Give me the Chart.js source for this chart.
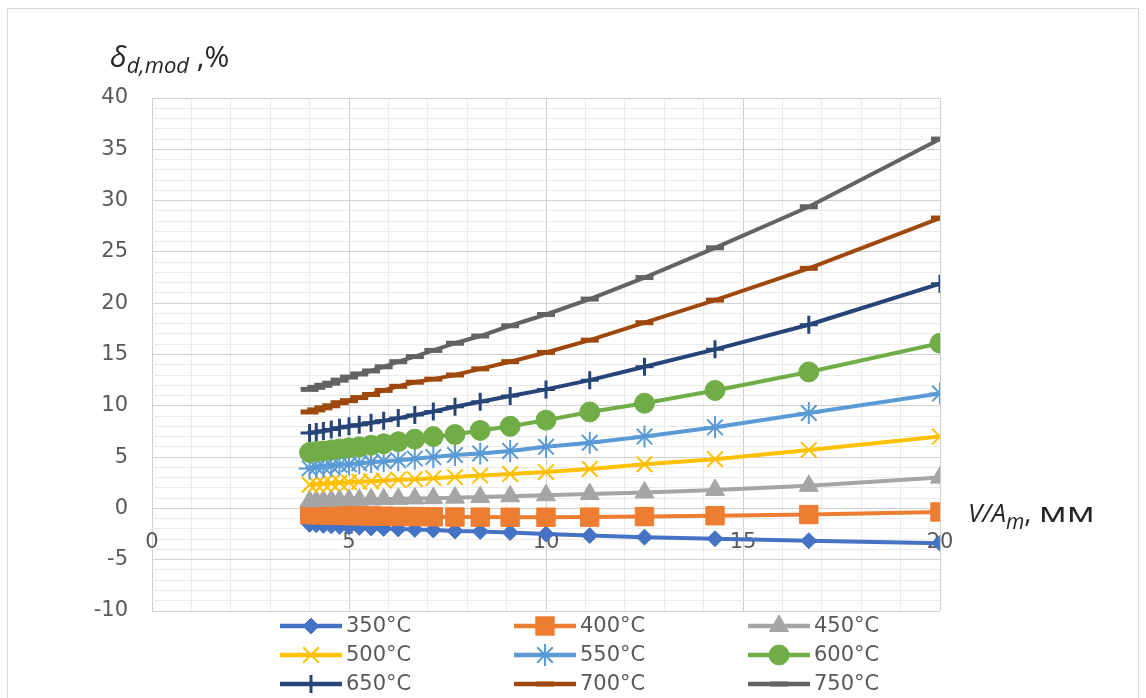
<!DOCTYPE html>
<html>
<head>
<meta charset="utf-8">
<script src="https://cdn.jsdelivr.net/npm/chart.js@4.4.1/dist/chart.umd.min.js"></script>
<style>
	html, body { margin: 0; padding: 0; background: #fff; }
	#wrap { position: relative; width: 1146px; height: 698px; overflow: hidden; }
	#frame { position: absolute; left: 7px; top: 8px; width: 1132px; height: 720px; border: 1px solid #d9d9d9; box-sizing: border-box; }
	#chart { position: absolute; left: 0; top: 0; }
</style>
</head>
<body>
<div id="wrap">
	<div id="frame"></div>
	<canvas id="chart" width="1146" height="698"></canvas>
</div>
<script>
// V/A_m, mm
const volumeRatio = [4, 4.17, 4.35, 4.55, 4.76, 5, 5.26, 5.56, 5.88, 6.25, 6.67, 7.14, 7.69, 8.33, 9.09, 10, 11.11, 12.5, 14.29, 16.67, 20];

const temperatures = ['350°C', '400°C', '450°C', '500°C', '550°C', '600°C', '650°C', '700°C', '750°C'];

// delta_d,mod, % for each temperature
const dev350 = [-1.55, -1.6, -1.65, -1.7, -1.75, -1.8, -1.85, -1.9, -1.95, -2.0, -2.05, -2.1, -2.2, -2.25, -2.35, -2.5, -2.65, -2.8, -2.95, -3.15, -3.4];
const dev400 = [-0.6, -0.62, -0.64, -0.66, -0.68, -0.7, -0.72, -0.74, -0.76, -0.78, -0.8, -0.82, -0.84, -0.85, -0.86, -0.86, -0.85, -0.8, -0.72, -0.6, -0.35];
const dev450 = [0.7, 0.72, 0.75, 0.78, 0.8, 0.82, 0.85, 0.88, 0.9, 0.93, 0.97, 1.0, 1.05, 1.1, 1.18, 1.28, 1.4, 1.55, 1.8, 2.2, 3.0];
const dev500 = [2.3, 2.35, 2.4, 2.45, 2.5, 2.55, 2.6, 2.65, 2.7, 2.8, 2.85, 2.95, 3.05, 3.2, 3.35, 3.55, 3.85, 4.3, 4.8, 5.7, 7.0];
const dev550 = [3.9, 4.0, 4.05, 4.15, 4.25, 4.3, 4.4, 4.5, 4.6, 4.7, 4.85, 5.0, 5.2, 5.35, 5.6, 6.0, 6.4, 7.0, 7.9, 9.3, 11.2];
const dev600 = [5.45, 5.55, 5.6, 5.7, 5.8, 5.9, 6.0, 6.15, 6.3, 6.5, 6.75, 7.0, 7.2, 7.6, 8.0, 8.6, 9.4, 10.25, 11.5, 13.3, 16.1];
const dev650 = [7.35, 7.45, 7.55, 7.7, 7.85, 8.0, 8.15, 8.35, 8.55, 8.8, 9.1, 9.45, 9.9, 10.4, 10.95, 11.6, 12.5, 13.8, 15.5, 17.9, 21.9];
const dev700 = [9.4, 9.6, 9.8, 10.0, 10.3, 10.5, 10.8, 11.1, 11.5, 11.9, 12.3, 12.6, 13.0, 13.6, 14.3, 15.2, 16.4, 18.1, 20.3, 23.4, 28.3];
const dev750 = [11.6, 11.8, 12.0, 12.2, 12.5, 12.8, 13.1, 13.4, 13.8, 14.3, 14.8, 15.4, 16.1, 16.8, 17.8, 18.9, 20.4, 22.5, 25.4, 29.4, 36.0];

const xTicks = [0, 5, 10, 15, 20];
const yTicks = [-10, -5, 0, 5, 10, 15, 20, 25, 30, 35, 40];

const seriesValues = [dev350, dev400, dev450, dev500, dev550, dev600, dev650, dev700, dev750];

const seriesStyles = [
	{ color: '#4472C4', point: 'rectRot',  radius: 8,  border: 1 },
	{ color: '#ED7D31', point: 'rect',     radius: 13, border: 1 },
	{ color: '#A5A5A5', point: 'triangle', radius: 11, border: 1 },
	{ color: '#FFC000', point: 'crossRot', radius: 11, border: 2 },
	{ color: '#5B9BD5', point: 'star',     radius: 11, border: 2 },
	{ color: '#70AD47', point: 'circle',   radius: 10, border: 1 },
	{ color: '#264478', point: 'cross',    radius: 9,  border: 3 },
	{ color: '#9E480E', point: 'line',     radius: 9,  border: 5 },
	{ color: '#636363', point: 'line',     radius: 9,  border: 5 }
];

const FONT = '"Open Sans", "Noto Sans", sans-serif';
const TICK_FONT = '"DejaVu Sans", sans-serif';
const TEXT_GRAY = '#595959';

function buildDatasets () {
	return temperatures.map((label, i) => {
		const style = seriesStyles[i];

		return {
			label,
			data: volumeRatio.map((x, k) => ({ x, y: seriesValues[i][k] })),
			borderColor: style.color,
			backgroundColor: style.color,
			borderWidth: 4,
			pointStyle: style.point,
			pointRadius: style.radius,
			pointBorderWidth: style.border,
			pointBorderColor: style.color,
			pointBackgroundColor: style.color,
			tension: 0,
			order: -i
		};
	});
}

function gridColor (ctx) {
	if (!ctx.tick) return '#ebebeb';
	return ctx.tick.value % 5 === 0 ? '#d0d0d0' : '#ebebeb';
}

// draws text pieces one after another; a piece with `width` is stretched to that width
function drawRuns (ctx, x, runs) {
	for (let run of runs) {
		ctx.font = run.font;
		const natural = ctx.measureText(run.text).width;

		if (run.width) {
			ctx.save();
			ctx.translate(x, run.y);
			ctx.scale(run.width / natural, 1);
			ctx.fillText(run.text, 0, 0);
			ctx.restore();
			x += run.width;
		} else {
			ctx.fillText(run.text, x, run.y);
			x += natural;
		}
	}
}

// axis titles and the three-column legend under the plot
const annotate = {
	id: 'annotate',
	afterDraw (chart) {
		const ctx = chart.ctx;
		ctx.save();
		ctx.fillStyle = '#262626';
		ctx.textBaseline = 'alphabetic';
		ctx.textAlign = 'left';

		drawRuns(ctx, 110, [
			{ text: 'δ', font: `italic 30px ${FONT}`, y: 67 },
			{ text: 'd,mod', font: `italic 22px ${FONT}`, y: 73 },
			{ text: ' ,%', font: `30px ${FONT}`, y: 67 }
		]);

		drawRuns(ctx, 968, [
			{ text: 'V/A', font: `italic 26px ${FONT}`, y: 522 },
			{ text: 'm', font: `italic 21px ${FONT}`, y: 529 },
			{ text: ', ', font: `28px ${FONT}`, y: 522 },
			{ text: 'мм', font: `27px ${FONT}`, y: 522, width: 56 }
		]);

		const columns = [280, 514, 748];
		const rows = [626, 655, 684];
		const lineLength = 62;

		chart.data.datasets.forEach((ds, i) => {
			const x0 = columns[i % 3];
			const y0 = rows[Math.floor(i / 3)];
			const style = seriesStyles[i];

			ctx.strokeStyle = style.color;
			ctx.fillStyle = style.color;
			ctx.lineWidth = 4.5;
			ctx.beginPath();
			ctx.moveTo(x0, y0);
			ctx.lineTo(x0 + lineLength, y0);
			ctx.stroke();

			ctx.lineWidth = style.border;
			if (Chart.helpers && Chart.helpers.drawPoint) {
				Chart.helpers.drawPoint(ctx, {
					pointStyle: style.point,
					radius: style.radius,
					borderWidth: style.border,
					rotation: 0
				}, x0 + lineLength / 2, y0);
			}

			ctx.fillStyle = TEXT_GRAY;
			ctx.font = `21px ${TICK_FONT}`;
			ctx.textBaseline = 'middle';
			ctx.fillText(ds.label, x0 + lineLength + 4, y0 + 1);
		});

		ctx.restore();
	}
};

function createChart () {
	const canvas = document.getElementById('chart');

	new Chart(canvas, {
		type: 'line',
		data: { datasets: buildDatasets() },
		options: {
			responsive: false,
			animation: false,
			layout: { padding: { left: 0, right: 206, top: 98, bottom: 87 } },
			plugins: {
				legend: { display: false },
				tooltip: { enabled: false }
			},
			scales: {
				x: {
					type: 'linear',
					position: { y: 0 },
					min: xTicks[0],
					max: xTicks[xTicks.length - 1],
					afterFit: scale => { scale.height = 1; },
					border: { display: false },
					grid: { color: gridColor, lineWidth: 1, drawTicks: false },
					ticks: {
						stepSize: 1,
						autoSkip: false,
						maxRotation: 0,
						padding: 22,
						color: TEXT_GRAY,
						font: { family: TICK_FONT, size: 21 },
						callback: v => xTicks.includes(v) ? String(v) : ''
					}
				},
				y: {
					min: yTicks[0],
					max: yTicks[yTicks.length - 1],
					afterFit: scale => { scale.width = 152; },
					border: { display: false },
					grid: { color: gridColor, lineWidth: 1, drawTicks: false },
					ticks: {
						stepSize: 1,
						autoSkip: false,
						padding: 24,
						color: TEXT_GRAY,
						font: { family: TICK_FONT, size: 21 },
						callback: v => yTicks.includes(v) ? String(v) : ''
					}
				}
			}
		},
		plugins: [annotate]
	});
}

createChart();
</script>
</body>
</html>
